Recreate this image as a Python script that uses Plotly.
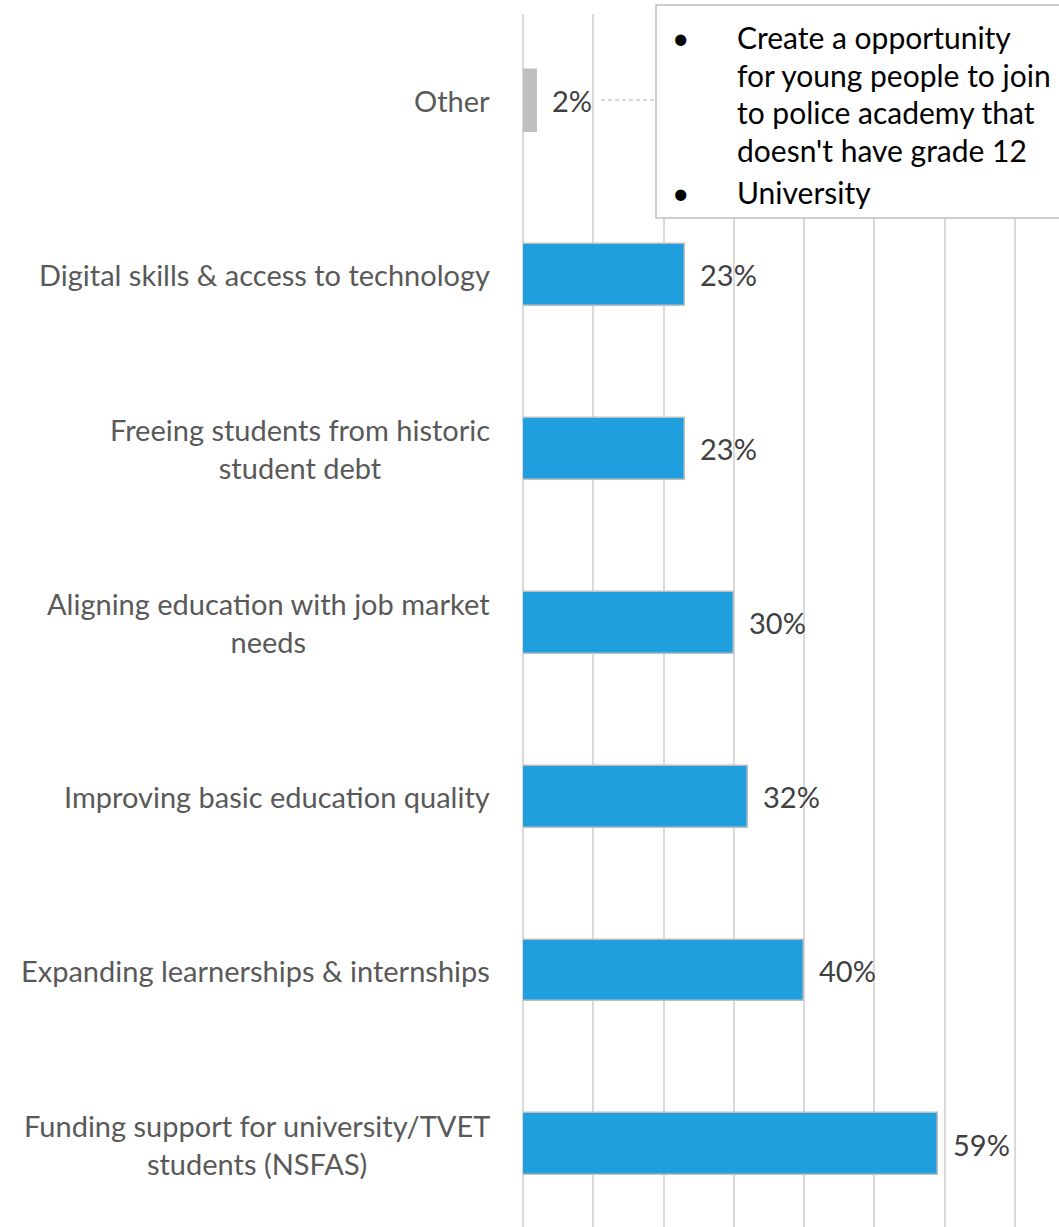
import plotly.graph_objects as go

# Survey responses: priorities for education support (share of respondents, %)
categories = [
    "Funding support for university/TVET<br>students (NSFAS)",
    "Expanding learnerships & internships",
    "Improving basic education quality",
    "Aligning education with job market<br>needs",
    "Freeing students from historic<br>student debt",
    "Digital skills & access to technology",
    "Other",
]
values = [59, 40, 32, 30, 23, 23, 2]
bar_colors = ["#209fdf"] * 6 + ["#bfbfbf"]

other_responses = [
    ["Create a opportunity", "for young people to join",
     "to police academy that", "doesn't have grade 12"],
    ["University"],
]

W, H = 1059, 1227
ML, MR, MT, MB = 523, 9, 14, 0
X_MAX = 75
FONT = "Lato"
FS = 29
FS_BOX = 30


def px_x(px):
    return (px - ML) / (W - ML - MR)


def px_y(py):
    return (H - MB - py) / (H - MT - MB)


ids = list(range(len(categories)))

fig = go.Figure(
    go.Bar(
        x=values,
        y=ids,
        orientation="h",
        width=0.356,
        marker=dict(color=bar_colors, line=dict(color="#bfbfbf", width=1.5)),
        hoverinfo="skip",
    )
)

annotations = []
# Category labels, lines centred on each other, right edge beside the axis
for i, lab in enumerate(categories):
    annotations.append(dict(
        x=0, xref="paper", xanchor="right", xshift=-31,
        y=i, yref="y", yanchor="middle",
        text=lab, align="center", showarrow=False,
        font=dict(family=FONT, size=FS, color="#595959"),
    ))
# Value labels just past the end of each bar
for i, v in enumerate(values):
    annotations.append(dict(
        x=v, xref="x", xanchor="left", xshift=13,
        y=i, yref="y", yanchor="middle",
        text=f"{v}%", showarrow=False,
        font=dict(family=FONT, size=FS, color="#404040"),
    ))

# Callout listing the "Other" responses
line_y = [37, 75, 112, 150, 192]
k = 0
for group in other_responses:
    annotations.append(dict(
        x=px_x(680), xref="paper", xanchor="center",
        y=px_y(line_y[k]), yref="paper", yanchor="middle",
        text="•", showarrow=False,
        font=dict(family=FONT, size=FS_BOX, color="#000000"),
    ))
    for line in group:
        annotations.append(dict(
            x=px_x(735), xref="paper", xanchor="left",
            y=px_y(line_y[k]), yref="paper", yanchor="middle",
            text=line, showarrow=False,
            font=dict(family=FONT, size=FS_BOX, color="#000000"),
        ))
        k += 1

shapes = [
    dict(type="line", xref="paper", yref="paper",
         x0=px_x(601), x1=px_x(656), y0=px_y(100), y1=px_y(100),
         line=dict(color="#b3b3b3", width=1, dash="4px,3px"), layer="above"),
    dict(type="rect", xref="paper", yref="paper",
         x0=px_x(656), x1=px_x(1075), y0=px_y(218), y1=px_y(5),
         fillcolor="#ffffff", line=dict(color="#bfbfbf", width=1.5),
         layer="above"),
]

fig.update_layout(
    width=W, height=H,
    margin=dict(l=ML, r=MR, t=MT, b=MB, pad=0),
    paper_bgcolor="#ffffff", plot_bgcolor="#ffffff",
    showlegend=False,
    bargap=0,
    xaxis=dict(range=[0, X_MAX], tickvals=[0, 10, 20, 30, 40, 50, 60, 70],
               showgrid=True, gridcolor="#d9d9d9", gridwidth=1.5,
               zeroline=True, zerolinecolor="#d9d9d9", zerolinewidth=1.5,
               showticklabels=False, ticks="", showline=False,
               fixedrange=True),
    yaxis=dict(range=[-0.475, 6.5], showgrid=False, zeroline=False,
               showticklabels=False, ticks="", showline=False,
               fixedrange=True),
    annotations=annotations,
    shapes=shapes,
)

fig.write_html("out.html", config={"displayModeBar": False})
